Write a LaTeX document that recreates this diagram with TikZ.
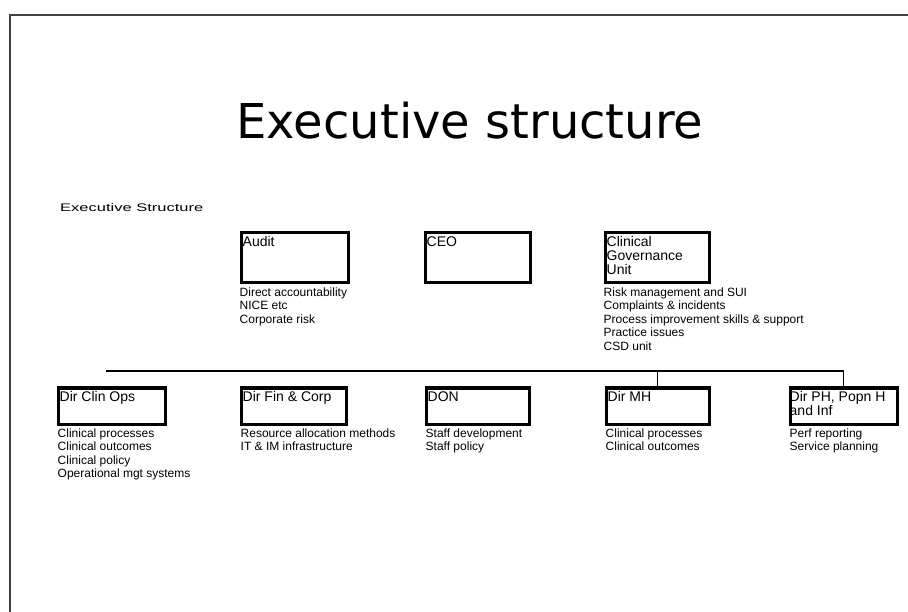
\documentclass[tikz,border=0pt]{standalone}
\usepackage{fontspec}
\setmainfont{Liberation Sans}
\newfontfamily\titlefont{DejaVu Sans}
\usepackage{graphicx}
\begin{document}
\begin{tikzpicture}[x=1pt,y=-1pt,
  box/.style={draw=black, line width=3pt, inner sep=0pt, anchor=north west},
  lbl/.style={anchor=north west, inner sep=0pt, align=left, font=\fontsize{14}{14}\selectfont},
  desc/.style={anchor=north west, inner sep=0pt, align=left, font=\fontsize{12}{13.5}\selectfont},
  conn/.style={line width=1.5pt, draw=black}]
\useasboundingbox (0,0) rectangle (908,612);
\fill[white] (0,0) rectangle (908,612);
\draw[line width=2pt, draw=black!75] (10,612) -- (10,15) -- (908,15);

\node[font=\titlefont\fontsize{48}{48}\selectfont, anchor=base, inner sep=0pt] (title) at (470,139) {Executive structure};
\node[anchor=north west, inner sep=0pt, font=\fontsize{11}{11}\selectfont] (exlabel) at (60,203) {\scalebox{1.5}[1]{Executive Structure}};

% top row
\node[box, minimum width=107pt, minimum height=50pt] (audit) at (239.5,231.5) {};
\node[box, minimum width=105pt, minimum height=50pt] (ceo) at (423.5,231.5) {};
\node[box, minimum width=104pt, minimum height=50pt] (cgu) at (603.5,231.5) {};
\node[lbl] (auditL) at ([xshift=3pt,yshift=-5pt]audit.north west) {Audit};
\node[lbl] (ceoL) at ([xshift=3pt,yshift=-5pt]ceo.north west) {CEO};
\node[lbl] (cguL) at ([xshift=3pt,yshift=-5pt]cgu.north west) {Clinical\\Governance\\Unit};
\node[desc] (auditD) at ([yshift=-3pt]audit.south west) {Direct accountability\\NICE etc\\Corporate risk};
\node[desc] (cguD) at ([yshift=-3pt]cgu.south west) {Risk management and SUI\\Complaints \& incidents\\Process improvement skills \& support\\Practice issues\\CSD unit};

% bottom row
\node[box, minimum width=107pt, minimum height=36pt] (clin) at (56.5,386.5) {};
\node[box, minimum width=105pt, minimum height=36pt] (fin) at (239.5,386.5) {};
\node[box, minimum width=103pt, minimum height=36pt] (don) at (424.5,386.5) {};
\node[box, minimum width=103pt, minimum height=36pt] (mh) at (604.5,386.5) {};
\node[box, minimum width=107pt, minimum height=36pt] (ph) at (788.5,386.5) {};
\node[lbl] (clinL) at ([xshift=3pt,yshift=-5pt]clin.north west) {Dir Clin Ops};
\node[lbl] (finL) at ([xshift=3pt,yshift=-5pt]fin.north west) {Dir Fin \& Corp};
\node[lbl] (donL) at ([xshift=3pt,yshift=-5pt]don.north west) {DON};
\node[lbl] (mhL) at ([xshift=3pt,yshift=-5pt]mh.north west) {Dir MH};
\node[lbl] (phL) at ([xshift=1pt,yshift=-5pt]ph.north west) {Dir PH, Popn H\\and Inf};
\node[desc] (clinD) at ([xshift=1pt,yshift=-3pt]clin.south west) {Clinical processes\\Clinical outcomes\\Clinical policy\\Operational mgt systems};
\node[desc] (finD) at ([xshift=1pt,yshift=-3pt]fin.south west) {Resource allocation methods\\IT \& IM infrastructure};
\node[desc] (donD) at ([xshift=1pt,yshift=-3pt]don.south west) {Staff development\\Staff policy};
\node[desc] (mhD) at ([xshift=1pt,yshift=-3pt]mh.south west) {Clinical processes\\Clinical outcomes};
\node[desc] (phD) at ([xshift=1pt,yshift=-3pt]ph.south west) {Perf reporting\\Service planning};

% connectors
\coordinate (hl) at (106,371);
\coordinate (hmh) at (mh.north |- hl);
\coordinate (hph) at (ph.north |- hl);
\draw[conn] (hl) -- (hph) -- (ph.north);
\draw[conn] (hmh) -- (mh.north);
\end{tikzpicture}
\end{document}
